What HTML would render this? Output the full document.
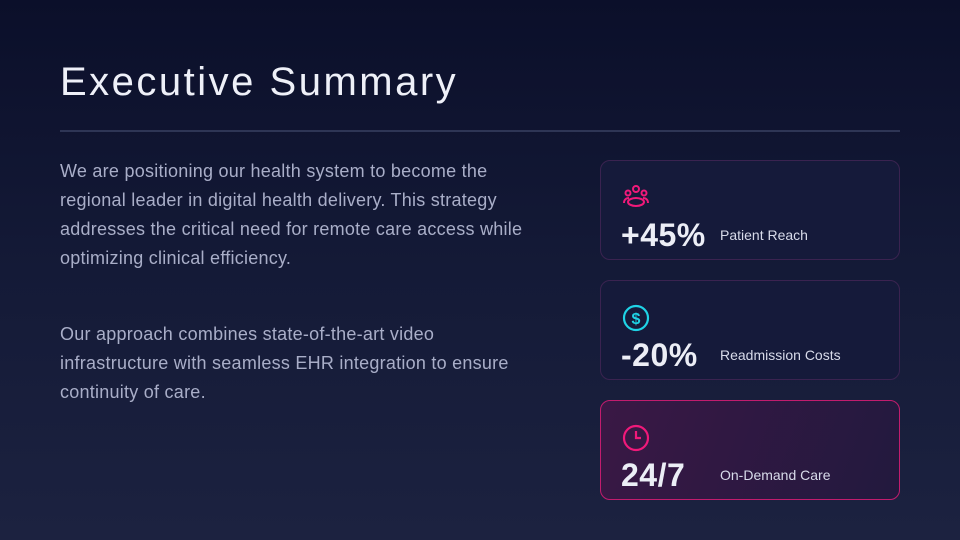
<!DOCTYPE html>
<html><head><meta charset="utf-8"><style>
*{margin:0;padding:0;box-sizing:border-box}
body{width:960px;height:540px;overflow:hidden;background:linear-gradient(180deg,#0b0f2a 0%,#141a37 50%,#1c2240 100%);font-family:"Liberation Sans",sans-serif;position:relative}
h1{position:absolute;left:60px;top:60px;font-size:40px;font-weight:400;color:#eef0f8;letter-spacing:2.5px}
.rule{position:absolute;left:60px;top:130px;width:840px;height:2px;background:#2e3555}
.p{position:absolute;left:60px;width:480px;font-size:18px;letter-spacing:0.25px;line-height:29px;color:#a9aec8}
.card{position:absolute;left:600px;width:300px;height:100px;border-radius:10px;border:1px solid #3a2350;background:#151a3a}
.card.hl{border-color:#c21c6e;background:linear-gradient(110deg,#3a1845 0%,#22193e 100%)}
.icon{position:absolute;left:20px;top:22px;width:30px;height:30px}
.num{position:absolute;left:20px;top:56px;font-size:32px;font-weight:700;color:#eceef6;letter-spacing:0.5px}
.lab{position:absolute;left:119px;top:66px;font-size:14px;color:#d8dbea}
</style></head><body>
<h1>Executive Summary</h1>
<div class="rule"></div>
<div class="p" style="top:157px">We are positioning our health system to become the regional leader in digital health delivery. This strategy addresses the critical need for remote care access while optimizing clinical efficiency.</div>
<div class="p" style="top:320px">Our approach combines state-of-the-art video infrastructure with seamless EHR integration to ensure continuity of care.</div>

<div class="card" style="top:160px">
<svg class="icon" viewBox="0 0 30 30" fill="none" stroke="#f0197a" stroke-width="2"><circle cx="15" cy="6" r="3"/><circle cx="7" cy="10" r="2.5"/><circle cx="23" cy="10" r="2.5"/><ellipse cx="15" cy="19" rx="8" ry="4"/><path d="M3 20c0-3 2-5 5-5M27 20c0-3-2-5-5-5"/></svg>
<div class="num">+45%</div><div class="lab">Patient Reach</div></div>

<div class="card" style="top:280px">
<svg class="icon" viewBox="0 0 30 30" fill="none" stroke="#1fd3e6" stroke-width="2.2"><circle cx="15" cy="15" r="12"/><text x="15" y="21" font-size="16" font-weight="700" text-anchor="middle" fill="#1fd3e6" stroke="none" font-family="Liberation Sans">$</text></svg>
<div class="num">-20%</div><div class="lab">Readmission Costs</div></div>

<div class="card hl" style="top:400px">
<svg class="icon" viewBox="0 0 30 30" fill="none" stroke="#f0197a" stroke-width="2.2"><circle cx="15" cy="15" r="12"/><path d="M15 8v7h5"/></svg>
<div class="num">24/7</div><div class="lab">On-Demand Care</div></div>
</body></html>
